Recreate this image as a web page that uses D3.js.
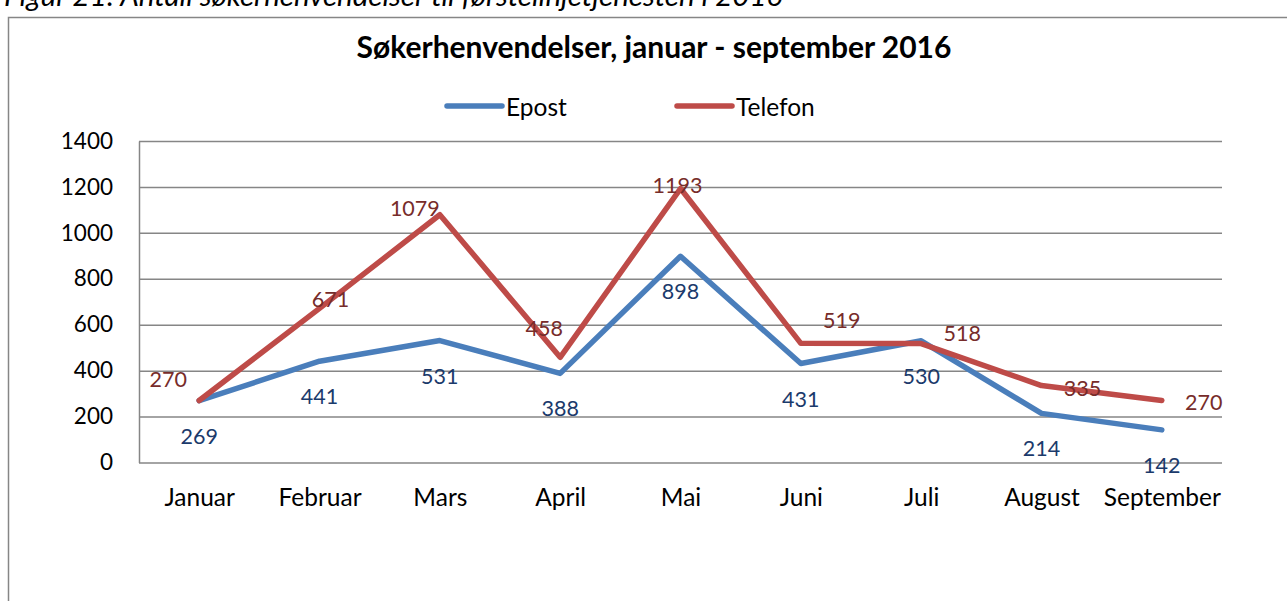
<!DOCTYPE html>
<html>
<head>
<meta charset="utf-8">
<script src="https://cdn.jsdelivr.net/npm/d3@7"></script>
<style>
  body { margin: 0; background: #fff; }
  svg { display: block; font-family: Lato, 'Open Sans', sans-serif; }
</style>
</head>
<body>
<div id="chart"></div>
<script>
const months = ['Januar', 'Februar', 'Mars', 'April', 'Mai', 'Juni', 'Juli', 'August', 'September'];
const epost = [269, 441, 531, 388, 898, 431, 530, 214, 142];
const telefon = [270, 671, 1079, 458, 1193, 519, 518, 335, 270];
const yTicks = [0, 200, 400, 600, 800, 1000, 1200, 1400];

// where each Telefon label sits relative to its point (dx, dy)
const telefonLabelShift = [[-31, -21], [11, -9], [-25, -7], [-16, -29], [-3, -4], [41, -23], [41, -11], [41, 2], [42, 2]];

const width = 1287;
const height = 601;
const plot = { left: 139, right: 1222, top: 141, bottom: 462.5 };

const svg = d3
  .select('#chart')
  .append('svg')
  .attr('width', width)
  .attr('height', height);

// caption, cut off at the top of the picture
svg.append('text')
  .attr('x', 4)
  .attr('y', 6)
  .attr('font-style', 'italic')
  .attr('font-size', 29.5)
  .attr('fill', '#000')
  .text('Figur 21: Antall søkerhenvendelser til førstelinjetjenesten i 2016');

// chart frame (right and bottom edges run off the picture)
svg.append('rect')
  .attr('x', 8.5)
  .attr('y', 17.5)
  .attr('width', width + 20)
  .attr('height', height + 20)
  .attr('fill', 'none')
  .attr('stroke', '#868686')
  .attr('stroke-width', 1.5);

svg.append('text')
  .attr('x', 654)
  .attr('y', 58)
  .attr('text-anchor', 'middle')
  .attr('font-weight', 'bold')
  .attr('font-size', 30)
  .text('Søkerhenvendelser, januar - september 2016');

const xScale = d3.scalePoint()
  .domain(months)
  .range([plot.left, plot.right])
  .padding(0.5);

const yScale = d3.scaleLinear()
  .domain([0, 1400])
  .range([plot.bottom, plot.top]);

// gridlines
svg.append('g')
  .attr('transform', `translate(${plot.left}, 0)`)
  .call(d3.axisLeft(yScale).tickValues(yTicks).tickFormat('').tickSize(-(plot.right - plot.left)))
  .call((g) => g.select('.domain').remove())
  .call((g) => g.selectAll('line').attr('stroke', '#868686').attr('stroke-width', 1.5));

// y axis line and labels
const yAxis = svg.append('g')
  .attr('transform', `translate(${plot.left}, 0)`)
  .call(d3.axisLeft(yScale).tickValues(yTicks).tickFormat(d3.format('d')).tickSize(0).tickPadding(26));
yAxis.select('.domain').attr('stroke', '#868686').attr('stroke-width', 1.5);
yAxis.selectAll('text')
  .attr('font-family', 'Lato, sans-serif')
  .attr('font-size', 22.5)
  .attr('fill', '#000');

// x axis labels
const xAxis = svg.append('g')
  .attr('transform', `translate(0, ${plot.bottom})`)
  .call(d3.axisBottom(xScale).tickSize(0).tickPadding(26));
xAxis.select('.domain').remove();
xAxis.selectAll('text')
  .attr('font-family', 'Lato, sans-serif')
  .attr('font-size', 24.5)
  .attr('fill', '#000');

const series = [
  { name: 'Epost', values: epost, color: '#4A7EBB', labelColor: '#1B3A6B' },
  { name: 'Telefon', values: telefon, color: '#BE4B48', labelColor: '#772C2A' },
];

const line = d3.line()
  .x((d, i) => xScale(months[i]))
  .y((d) => yScale(d));

series.forEach((s) => {
  svg.append('path')
    .datum(s.values)
    .attr('d', line)
    .attr('fill', 'none')
    .attr('stroke', s.color)
    .attr('stroke-width', 5.5)
    .attr('stroke-linejoin', 'round')
    .attr('stroke-linecap', 'round');
});

// data labels
svg.append('g')
  .selectAll('text')
  .data(epost)
  .join('text')
  .attr('x', (d, i) => xScale(months[i]))
  .attr('y', (d) => yScale(d) + 35)
  .attr('text-anchor', 'middle')
  .attr('dominant-baseline', 'central')
  .attr('font-size', 21.5)
  .attr('fill', series[0].labelColor)
  .text((d) => d);

svg.append('g')
  .selectAll('text')
  .data(telefon)
  .join('text')
  .attr('x', (d, i) => xScale(months[i]) + telefonLabelShift[i][0])
  .attr('y', (d, i) => yScale(d) + telefonLabelShift[i][1])
  .attr('text-anchor', 'middle')
  .attr('dominant-baseline', 'central')
  .attr('font-size', 21.5)
  .attr('fill', series[1].labelColor)
  .text((d) => d);

// legend
const legendX = [447, 677];
const legend = svg.append('g')
  .selectAll('g')
  .data(series)
  .join('g')
  .attr('transform', (d, i) => `translate(${legendX[i]}, 106)`);

legend.append('line')
  .attr('x1', 0)
  .attr('x2', 55)
  .attr('stroke', (d) => d.color)
  .attr('stroke-width', 5.5)
  .attr('stroke-linecap', 'round');

legend.append('text')
  .attr('x', 59)
  .attr('dominant-baseline', 'central')
  .attr('font-size', 24.5)
  .text((d) => d.name);
</script>
</body>
</html>
